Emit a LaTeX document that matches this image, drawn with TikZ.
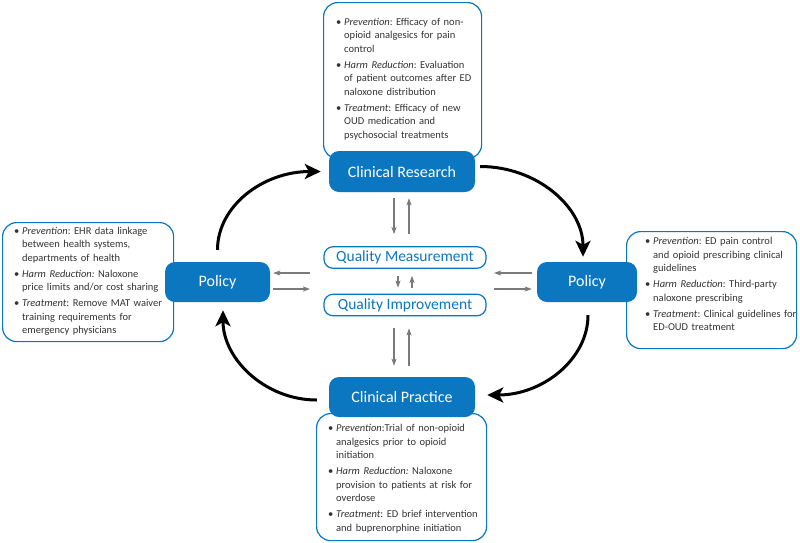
\documentclass[tikz,border=0pt]{standalone}
\usepackage{fontspec}
\setmainfont{Carlito}
\usetikzlibrary{arrows.meta}
\definecolor{mblue}{HTML}{0A77C0}
\definecolor{tgray}{HTML}{333333}
\definecolor{agray}{HTML}{7A7A7A}
\newcommand{\bitem}[1]{\noindent\hangindent=8pt\hangafter=1\makebox[8pt][l]{\textbullet}#1\par}
\begin{document}
\begin{tikzpicture}[x=1pt,y=-1pt,
  frame/.style={draw=mblue, line width=1.2pt, fill=white, rounded corners=14pt, anchor=north west, inner sep=0pt},
  btext/.style={anchor=north west, inner sep=0pt, text width=#1, align=left, text=tgray,
    font=\fontsize{10.5}{13.5}\selectfont,
    execute at begin node={\frenchspacing\hyphenpenalty=10000\exhyphenpenalty=10000\setlength{\parskip}{2.5pt}}},
  solidbox/.style={fill=mblue, text=white, rounded corners=10pt, inner sep=0pt, font=\fontsize{16}{19}\selectfont},
  outlinebox/.style={draw=mblue, line width=1.2pt, fill=white, text=mblue, rounded corners=9pt, inner sep=0pt,
    minimum width=162pt, font=\fontsize{15.5}{18}\selectfont},
  garr/.style={draw=agray, line width=1.1pt, -{Stealth[length=7pt,width=5pt,inset=1.5pt]}},
  bigarr/.style={draw=black, line width=3pt, -{Stealth[length=16pt,width=15pt,inset=4pt]}}]
\fill[white] (0,0) rectangle (800,542);
\useasboundingbox (0,0) rectangle (800,542);

% text frames
\node[frame, minimum width=158pt, minimum height=156pt] (topframe) at (323,2) {};
\node[frame, minimum width=171pt, minimum height=119pt] (leftframe) at (2,222) {};
\node[frame, minimum width=170pt, minimum height=117pt] (rightframe) at (626,231) {};
\node[frame, minimum width=170pt, minimum height=127pt] (botframe) at (316,413) {};

\node[btext=160pt] (toptext) at (336,18) {%
\bitem{\textit{Prevention}: Efficacy of non-\newline opioid analgesics for pain\newline control}
\bitem{\textit{Harm Reduction}: Evaluation\newline of patient outcomes after ED\newline naloxone distribution}
\bitem{\textit{Treatment}: Efficacy of new\newline OUD medication and\newline psychosocial treatments}};

\node[btext=170pt] (lefttext) at (14,227) {%
\bitem{\textit{Prevention}: EHR data linkage\newline between health systems,\newline departments of health}
\bitem{\textit{Harm Reduction:} Naloxone\newline price limits and/or cost sharing}
\bitem{\textit{Treatment}: Remove MAT waiver\newline training requirements for\newline emergency physicians}};

\node[btext=170pt] (righttext) at (645,237.5) {%
\bitem{\textit{Prevention}: ED pain control\newline and opioid prescribing clinical\newline guidelines}
\bitem{\textit{Harm Reduction}: Third-party\newline naloxone prescribing}
\bitem{\textit{Treatment}: Clinical guidelines for\newline ED-OUD treatment}};

\node[btext=170pt] (bottext) at (328,424) {%
\bitem{\textit{Prevention}:Trial of non-opioid\newline analgesics prior to opioid\newline initiation}
\bitem{\textit{Harm Reduction:} Naloxone\newline provision to patients at risk for\newline overdose}
\bitem{\textit{Treatment}: ED brief intervention\newline and buprenorphine initiation}};

% main boxes
\node[solidbox, minimum width=146pt, minimum height=41pt] (cr) at (402,171.5) {Clinical Research};
\node[solidbox, minimum width=146pt, minimum height=40pt] (cp) at (402,397) {Clinical Practice};
\node[solidbox, minimum width=105pt, minimum height=40pt] (polL) at (217.5,282) {Policy};
\node[solidbox, minimum width=100pt, minimum height=40pt] (polR) at (587,282) {Policy};
\node[outlinebox, minimum height=21.5pt] (qm) at (405,257.5) {Quality Measurement};
\node[outlinebox, minimum height=21.5pt] (qi) at (405,305) {Quality Improvement};

% gray arrows (vertical)
\draw[garr] ([shift={(-8,6)}]cr.south) -- ([shift={(-11,-12)}]qm.north);
\draw[garr] ([shift={(4,-12)}]qm.north) -- ([shift={(7,6)}]cr.south);
\draw[garr] ([shift={(-7,7)}]qm.south) -- ([shift={(-7,-6)}]qi.north);
\draw[garr] ([shift={(7,-6)}]qi.north) -- ([shift={(7,7)}]qm.south);
\draw[garr] ([shift={(-11,12)}]qi.south) -- ([shift={(-8,-11)}]cp.north);
\draw[garr] ([shift={(7,-11)}]cp.north) -- ([shift={(4,12)}]qi.south);

% gray arrows (horizontal)
\coordinate (lgap) at (310,281);
\coordinate (rgap) at (494,281);
\draw[garr] ([shift={(0,-8)}]lgap) -- ([shift={(3,-9)}]polL.east);
\draw[garr] ([shift={(3,7)}]polL.east) -- ([shift={(0,8)}]lgap);
\draw[garr] ([shift={(-5,-9)}]polR.west) -- ([shift={(0,-8)}]rgap);
\draw[garr] ([shift={(0,8)}]rgap) -- ([shift={(-5,7)}]polR.west);

% black cycle arcs
\draw[bigarr] ([yshift=12pt]polL.north) .. controls (217.5,206) and (263,171.5) .. ([xshift=-8pt]cr.west);
\draw[bigarr] ([shift={(5,-5)}]cr.east) .. controls (537,166.5) and (583,207) .. ([shift={(-4,-5)}]polR.north);
\draw[bigarr] ([shift={(1,13)}]polR.south) .. controls (588,359) and (543,395) .. ([shift={(12,-2)}]cp.east);
\draw[bigarr] ([shift={(-12,3)}]cp.west) .. controls (265,400) and (223,359) .. ([shift={(5.5,8)}]polL.south);
\end{tikzpicture}
\end{document}
